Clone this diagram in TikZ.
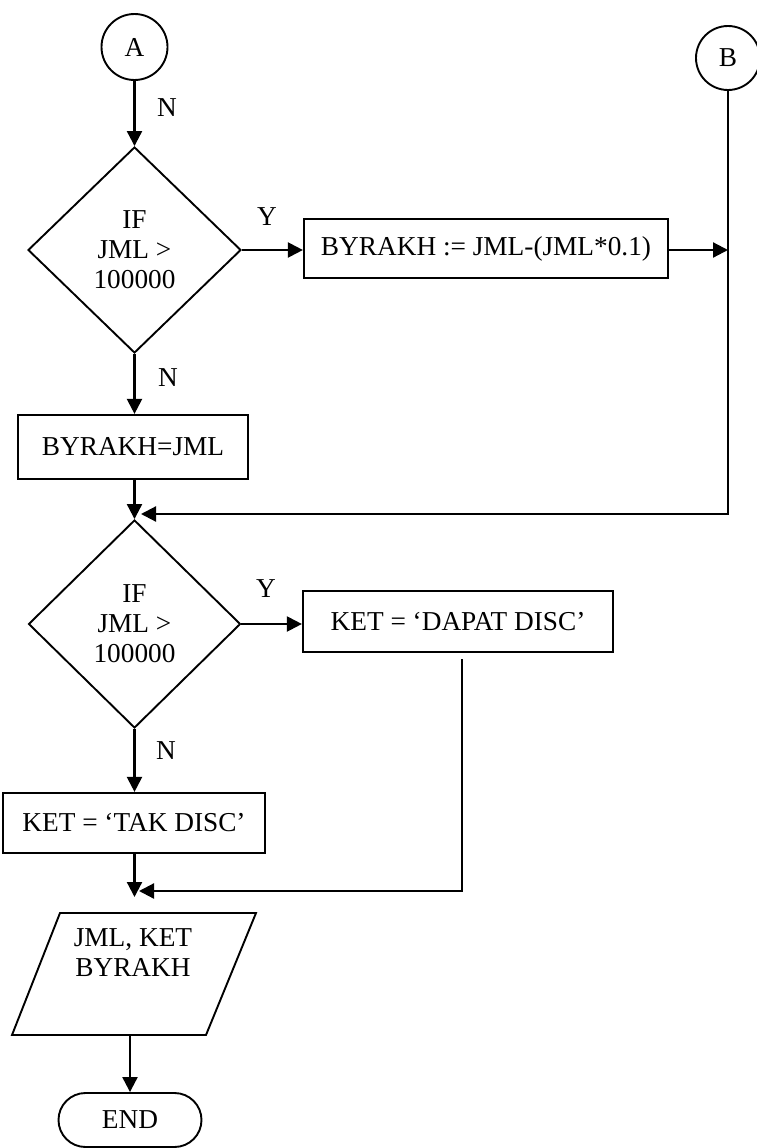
\documentclass[tikz,border=0pt]{standalone}
\usepackage{fontspec}
\setmainfont{Liberation Serif}
\usetikzlibrary{shapes.geometric,shapes.misc,arrows.meta}
\begin{document}
\begin{tikzpicture}[x=1pt,y=-1pt,
  every node/.style={font=\fontsize{27.3pt}{30pt}\selectfont},
  proc/.style={draw, rectangle, inner sep=0pt, line width=2.2pt},
  conn/.style={draw, circle, inner sep=0pt, line width=1.9pt},
  dec/.style={draw, diamond, inner sep=0pt, aspect=1, align=center, line width=1.9pt},
  iopath/.style={draw, line width=1.9pt, line join=miter},
  term/.style={draw, rounded rectangle, inner sep=0pt, line width=1.9pt},
  flow/.style={-{Triangle[length=15pt,width=15pt]}, line width=2.2pt},
  lbl/.style={inner sep=0pt}]
\useasboundingbox (0,0) rectangle (756,1148);

% nodes
\node[conn, minimum size=66pt] (A) at (134.5,47) {A};
\node[conn, minimum size=64pt] (B) at (728,58) {B};
\node[dec, minimum width=213pt, minimum height=206pt] (d1) at (134.5,250) {IF\\JML >\\100000};
\node[proc, minimum width=364pt, minimum height=59pt] (p1) at (486,248.5) {BYRAKH := JML-(JML*0.1)};
\node[proc, minimum width=230pt, minimum height=64pt] (p2) at (133,447) {BYRAKH=JML};
\node[dec, minimum width=212pt, minimum height=208pt] (d2) at (134.5,624) {IF\\JML >\\100000};
\node[proc, minimum width=310pt, minimum height=61pt] (p3) at (458,621.5) {KET = ‘DAPAT DISC’};
\node[proc, minimum width=262pt, minimum height=60pt] (p4) at (134,823) {KET = ‘TAK DISC’};

% input/output parallelogram
\coordinate (ioTL) at (60,913);
\coordinate (ioTR) at (256,913);
\coordinate (ioBR) at (206,1035);
\coordinate (ioBL) at (12,1035);
\path[iopath] (ioTL) -- (ioTR) -- (ioBR) -- (ioBL) -- cycle;
\node[align=center, lbl] (iotext) at (133,953) {JML, KET\\BYRAKH};

\node[term, minimum width=143pt, minimum height=54pt] (end) at (130,1120) {END};

% labels
\node[lbl] (n1) at (167,108) {N};
\node[lbl] (y1) at (267,217) {Y};
\node[lbl] (n2) at (168,378) {N};
\node[lbl] (y2) at (266,589) {Y};
\node[lbl] (n3) at (166,751) {N};

% junction points
\coordinate (m1) at (141,514);
\coordinate (m2) at (134.5,897);
\coordinate (m3) at (139,891);

% connectors
\draw[flow] (A.south) -- (d1.north);
\draw[flow] (d1.east) -- (d1.east -| p1.west);
\draw[flow] (p1.east |- d1.east) -- (d1.east -| B.south);
\draw[flow] (B.south) |- (m1);
\draw[flow] (d1.south) -- (d1.south |- p2.north);
\draw[flow] (p2.south -| d2.north) -- (d2.north);
\draw[flow] (d2.east) -- (d2.east -| p3.west);
\draw[flow] (d2.south) -- (d2.south |- p4.north);
\draw[flow] (p4.south -| m2) -- (m2);
\draw[flow] ([xshift=4pt,yshift=-6pt]p3.south) |- (m3);
\draw[flow] (end.north |- ioBL) -- (end.north);
\end{tikzpicture}
\end{document}
